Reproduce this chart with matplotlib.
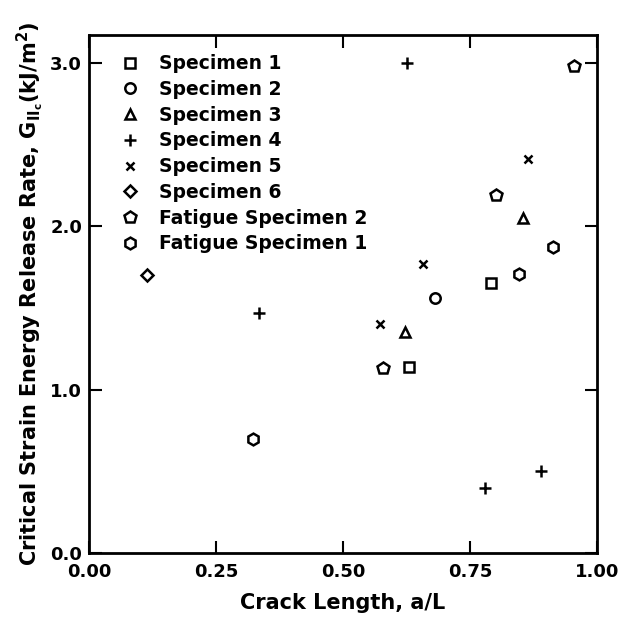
import matplotlib
matplotlib.use("Agg")
import matplotlib.pyplot as plt

plt.rcParams['font.family'] = ['DejaVu Sans']
plt.rcParams['mathtext.fontset'] = 'custom'
plt.rcParams['mathtext.rm'] = 'DejaVu Sans:bold'
plt.rcParams['mathtext.it'] = 'DejaVu Sans:bold'
plt.rcParams['mathtext.bf'] = 'DejaVu Sans:bold'

labels = ["Specimen 1", "Specimen 2", "Specimen 3", "Specimen 4", "Specimen 5",
          "Specimen 6", "Fatigue Specimen 2", "Fatigue Specimen 1"]
markers = ["s", "o", "^", "+", "x", "D", "p", "h"]

s1_x = [0.630, 0.792]; s1_y = [1.14, 1.65]
s2_x = [0.682];        s2_y = [1.56]
s3_x = [0.623, 0.854]; s3_y = [1.35, 2.05]
s4_x = [0.335, 0.626, 0.779, 0.889]; s4_y = [1.47, 3.00, 0.40, 0.50]
s5_x = [0.573, 0.658, 0.864]; s5_y = [1.40, 1.77, 2.41]
s6_x = [0.115]; s6_y = [1.70]
f2_x = [0.579, 0.802, 0.955]; f2_y = [1.13, 2.19, 2.98]
f1_x = [0.323, 0.846, 0.913]; f1_y = [0.70, 1.71, 1.87]

xs = [s1_x, s2_x, s3_x, s4_x, s5_x, s6_x, f2_x, f1_x]
ys = [s1_y, s2_y, s3_y, s4_y, s5_y, s6_y, f2_y, f1_y]

xticks = [0.0, 0.25, 0.5, 0.75, 1.0]
xticklabels = ["0.00", "0.25", "0.50", "0.75", "1.00"]
yticks = [0.0, 1.0, 2.0, 3.0]
yticklabels = ["0.0", "1.0", "2.0", "3.0"]

fig = plt.figure(figsize=(6.27, 6.21), dpi=100)
ax = fig.add_axes([0.142, 0.1095, 0.81, 0.834])

sizes = {"s": 6.5, "o": 7.5, "^": 7.5, "+": 8, "x": 6, "D": 6, "p": 9, "h": 8.5}
for x, y, m, lab in zip(xs, ys, markers, labels):
    ax.plot(x, y, linestyle='none', marker=m, markersize=sizes[m],
            markerfacecolor='white', markeredgecolor='black',
            markeredgewidth=1.8, color='black', label=lab)

ax.set_xlim(0, 1.0)
ax.set_ylim(0, 3.17)
ax.set_xticks(xticks)
ax.set_xticklabels(xticklabels)
ax.set_yticks(yticks)
ax.set_yticklabels(yticklabels)
ax.tick_params(direction='in', length=9, width=1.5, top=True, right=True,
               labelsize=13)
ax.tick_params(axis='x', pad=7)
ax.tick_params(axis='y', pad=5)
for lab in ax.get_xticklabels() + ax.get_yticklabels():
    lab.set_fontweight('bold')
for s in ax.spines.values():
    s.set_linewidth(2)

ax.set_xlabel("Crack Length, a/L", fontsize=15, fontweight='bold', labelpad=9)
ax.set_ylabel(r"Critical Strain Energy Release Rate, G$_{\mathrm{II_c}}$(kJ/m$^2$)",
              fontsize=15, fontweight='bold', labelpad=3)

leg = ax.legend(loc='upper left', bbox_to_anchor=(0.04, 0.985), frameon=False,
                fontsize=13.5, labelspacing=0.36, handletextpad=1.05,
                handlelength=1.0, borderaxespad=0.2)
for t in leg.get_texts():
    t.set_fontweight('bold')

fig.savefig("out.png", dpi=100)
